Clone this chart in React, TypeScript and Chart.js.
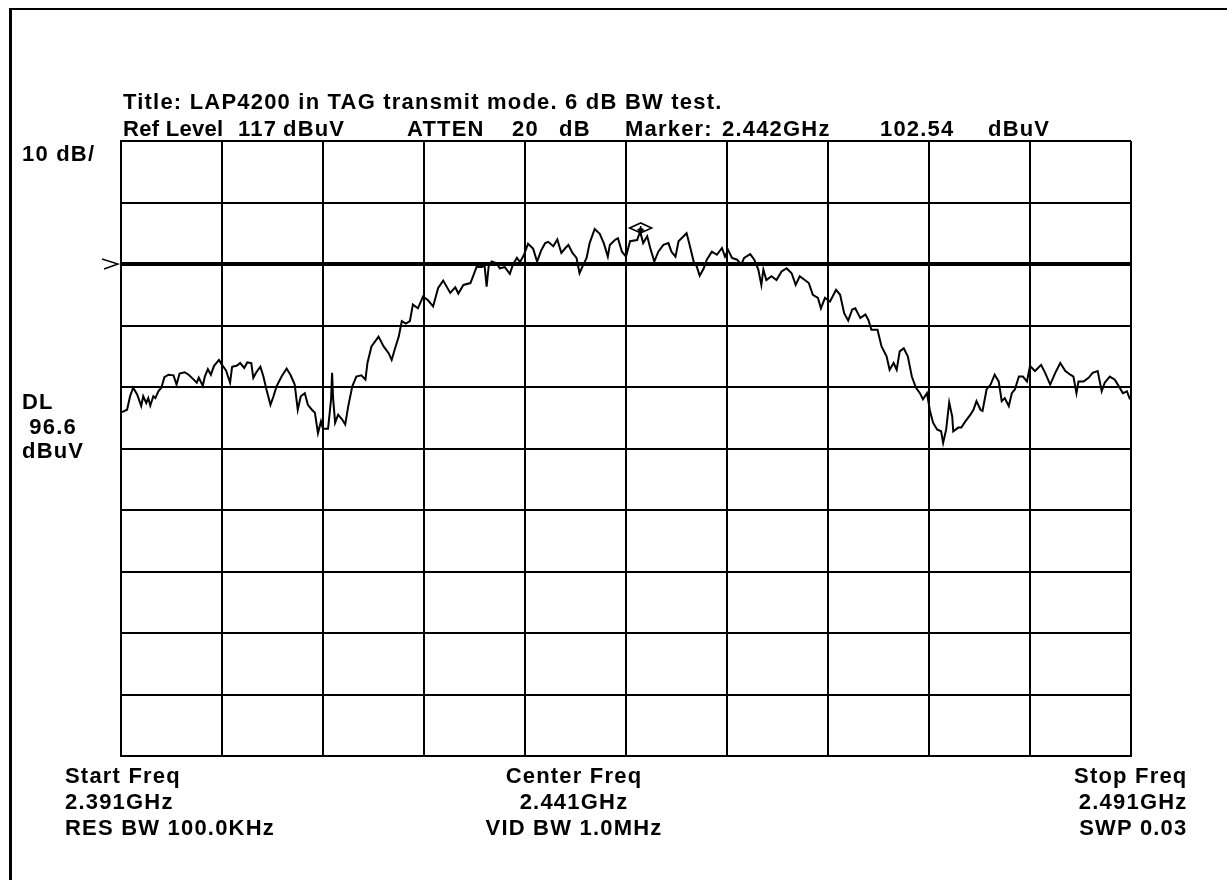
import React, { useEffect, useRef } from "react";
import { Chart, registerables } from "chart.js";

Chart.register(...registerables);

// ---- data ----
const START_MHZ = 2391;
const STOP_MHZ = 2491;
const REF_LEVEL = 117;
const DB_PER_DIV = 10;
const DIVISIONS = 10;
const DISPLAY_LINE = 97;
const MARKER_FREQ = 2442.45;
const MARKER_LEVEL = 102.54;

const FREQ_MHZ = [
  2391.1, 2391.6, 2391.9, 2392.2, 2392.6, 2393.0, 2393.2, 2393.5, 2393.7, 2393.9,
  2394.2, 2394.4, 2394.7, 2395.0, 2395.3, 2395.7, 2396.2, 2396.5, 2396.8, 2397.3,
  2397.7, 2398.2, 2398.5, 2398.7, 2399.1, 2399.3, 2399.6, 2399.9, 2400.2, 2400.7,
  2401.0, 2401.4, 2401.8, 2402.0, 2402.5, 2402.8, 2403.2, 2403.5, 2403.9, 2404.1,
  2404.4, 2404.8, 2405.1, 2405.4, 2405.8, 2406.1, 2406.4, 2406.9, 2407.4, 2407.8,
  2408.2, 2408.5, 2408.8, 2409.2, 2409.5, 2409.9, 2410.2, 2410.5, 2410.8, 2411.0,
  2411.5, 2411.8, 2411.9, 2412.0, 2412.2, 2412.5, 2412.9, 2413.2, 2413.5, 2413.9,
  2414.3, 2414.8, 2415.2, 2415.4, 2415.8, 2416.5, 2417.0, 2417.5, 2417.8, 2418.1,
  2418.5, 2418.8, 2419.2, 2419.6, 2419.9, 2420.4, 2420.9, 2421.4, 2421.9, 2422.4,
  2422.9,
  2423.6, 2424.1, 2424.4, 2424.9, 2425.6, 2425.9, 2426.2, 2426.7, 2427.0, 2427.2,
  2427.4, 2427.7, 2428.2, 2428.5, 2429.0, 2429.5, 2429.8, 2430.2, 2430.5, 2430.9,
  2431.3, 2431.8, 2432.2, 2432.6, 2433.0, 2433.3, 2433.8, 2434.2, 2434.6, 2435.0,
  2435.3, 2435.7, 2436.1, 2436.4, 2436.7, 2437.1, 2437.4, 2437.9, 2438.4, 2438.8,
  2439.2, 2439.4, 2439.9, 2440.2, 2440.6, 2441.0, 2441.4, 2442.1, 2442.4, 2442.7,
  2443.1, 2443.4, 2443.8, 2444.2, 2444.7, 2445.2, 2445.5, 2445.9, 2446.2, 2446.7,
  2447.0, 2447.3, 2447.7, 2448.0, 2448.3, 2448.7, 2449.0, 2449.5, 2450.0, 2450.5,
  2450.8, 2451.1, 2451.5, 2452.0, 2452.4, 2452.7, 2453.3, 2453.7, 2454.1, 2454.4,
  2454.6, 2454.9, 2455.4, 2455.9, 2456.4, 2456.9, 2457.4,
  2457.8, 2458.2, 2458.7, 2459.1, 2459.5, 2460.0, 2460.3, 2460.7, 2461.2, 2461.8,
  2462.2, 2462.6, 2463.0, 2463.4, 2463.7, 2464.2, 2464.7, 2465.0, 2465.3, 2465.9,
  2466.3, 2466.8, 2467.1, 2467.5, 2467.8, 2468.1, 2468.5, 2468.9, 2469.3, 2469.7,
  2470.1, 2470.4, 2470.8, 2471.1, 2471.4, 2471.8, 2472.2, 2472.4, 2472.7, 2473.0,
  2473.3, 2473.4, 2473.9, 2474.2, 2474.6, 2475.1, 2475.4, 2475.7, 2476.1, 2476.3,
  2476.7, 2477.1, 2477.5, 2477.9, 2478.2, 2478.5, 2478.9, 2479.2, 2479.5, 2479.9,
  2480.3, 2480.7, 2481.0, 2481.5, 2482.1, 2482.5, 2483.0, 2483.5, 2484.0, 2484.5,
  2485.0, 2485.3, 2485.6, 2485.8, 2486.3, 2486.8, 2487.2, 2487.7, 2488.1, 2488.4,
  2488.9, 2489.4, 2489.8, 2490.2, 2490.6, 2490.9,
];

const LEVEL_DBUV = [
  72.9, 73.3, 75.5, 76.9, 75.8, 73.9, 75.5, 74.4, 75.2, 74.0,
  75.5, 75.2, 76.3, 76.9, 78.6, 79.0, 78.9, 77.4, 79.2, 79.4,
  79.0, 78.2, 77.7, 78.5, 77.2, 78.7, 79.9, 79.0, 80.4, 81.4,
  80.6, 79.7, 77.7, 80.3, 80.5, 80.9, 80.1, 81.0, 80.9, 78.5,
  79.4, 80.3, 78.7, 76.6, 74.1, 75.5, 77.1, 78.7, 80.0, 78.9,
  77.4, 73.3, 75.5, 76.0, 74.1, 73.3, 72.8, 69.5, 71.4, 70.2,
  70.2, 75.0, 79.3, 75.2, 71.2, 72.5, 71.7, 70.9, 73.9, 77.1,
  78.7, 78.9, 78.2, 80.9, 83.6, 85.2, 83.6, 82.5, 81.4, 83.1,
  85.2, 87.7, 87.3, 87.7, 90.4, 89.8, 91.7, 91.1, 90.1, 93.1,
  94.3,
  92.3, 93.2, 92.2, 93.6, 93.9, 95.2, 96.5, 96.5, 96.7, 93.3,
  96.6, 97.4, 97.1, 96.3, 96.5, 95.4, 96.9, 98.0, 97.3, 98.5,
  100.3, 99.5, 97.4, 99.2, 100.4, 100.6, 99.9, 101.0, 98.8, 99.6,
  100.1, 98.8, 98.0, 95.5, 96.6, 98.0, 100.4, 102.7, 101.9, 100.4,
  98.2, 100.1, 100.9, 101.2, 99.0, 98.2, 100.7, 100.9, 102.3, 100.4,
  101.5, 99.6, 97.4, 99.0, 100.1, 100.4, 99.0, 98.2, 100.7, 101.5,
  102.0, 100.1, 97.4, 96.6, 95.1, 96.3, 97.7, 99.0, 98.5, 99.6,
  98.2, 99.3, 98.0, 97.7, 96.9, 98.0, 98.6, 97.7, 96.1, 93.6,
  96.1, 94.4, 95.0, 94.4, 95.8, 96.3, 95.5,
  93.6, 95.0, 94.4, 93.9, 92.0, 91.5, 89.8, 91.5, 90.9, 92.8,
  92.0, 89.0, 87.8, 89.6, 89.8, 88.2, 88.8, 87.9, 86.3, 86.3,
  83.6, 82.0, 79.8, 80.9, 79.8, 82.8, 83.3, 82.0, 78.7, 76.9,
  76.0, 75.0, 76.0, 73.1, 71.2, 70.1, 69.8, 67.9, 70.1, 74.5,
  72.2, 69.8, 70.4, 70.4, 71.4, 72.5, 73.3, 74.7, 73.3, 73.1,
  76.6, 77.4, 79.0, 77.9, 74.7, 75.2, 73.9, 76.0, 76.6, 78.7,
  78.7, 77.9, 80.4, 79.6, 80.6, 79.3, 77.4, 79.3, 80.9, 79.6,
  79.0, 78.7, 76.0, 77.9, 77.9, 78.5, 79.3, 79.6, 76.3, 77.7,
  78.7, 78.2, 77.1, 76.0, 76.3, 75.0,
];

// ---- text ----
const TITLE_LINE = "Title: LAP4200 in TAG transmit mode. 6 dB BW test.";
const HEADER_TOKENS: [string, number, number][] = [
  ["Ref Level", 123, 0.3],
  ["117", 238, 1.2],
  ["dBuV", 283, 1.2],
  ["ATTEN", 407, 1.2],
  ["20", 512, 1.2],
  ["dB", 559, 1.2],
  ["Marker:", 625, 1.2],
  ["2.442GHz", 722, 1.2],
  ["102.54", 880, 1.2],
  ["dBuV", 988, 1.2],
];
const SCALE_LABEL = "10 dB/";
const DL_LABELS = ["DL", " 96.6", "dBuV"];
const LEFT_FOOTER = ["Start Freq", "2.391GHz", "RES BW 100.0KHz"];
const CENTER_FOOTER = ["Center Freq", "2.441GHz", "VID BW 1.0MHz"];
const RIGHT_FOOTER = ["Stop Freq", "2.491GHz", "SWP 0.03"];

const X_GRID = Array.from({ length: DIVISIONS + 1 }, (_, i) => START_MHZ + (i * (STOP_MHZ - START_MHZ)) / DIVISIONS);
const Y_GRID = Array.from({ length: DIVISIONS + 1 }, (_, i) => REF_LEVEL - i * DB_PER_DIV);

const textStyle: React.CSSProperties = {
  position: "absolute",
  fontFamily: "'Liberation Sans', Arial, sans-serif",
  fontWeight: "bold",
  fontSize: "22px",
  lineHeight: "22px",
  letterSpacing: "1.2px",
  whiteSpace: "pre",
  color: "#000",
};

const overlayPlugin = {
  id: "saOverlay",
  afterDatasetsDraw(chart: any) {
    const { ctx, chartArea, scales } = chart;
    const x = scales.x;
    const y = scales.y;
    ctx.save();
    ctx.strokeStyle = "#000";
    ctx.fillStyle = "#000";
    ctx.lineWidth = 1.6;
    // marker diamond
    const mx = x.getPixelForValue(MARKER_FREQ);
    const my = y.getPixelForValue(MARKER_LEVEL);
    ctx.beginPath();
    ctx.moveTo(mx - 11, my - 2);
    ctx.lineTo(mx, my - 7);
    ctx.lineTo(mx + 11, my - 2);
    ctx.lineTo(mx, my + 3);
    ctx.closePath();
    ctx.stroke();
    ctx.beginPath();
    ctx.moveTo(mx, my - 4);
    ctx.lineTo(mx, my + 6);
    ctx.moveTo(mx - 3.5, my);
    ctx.lineTo(mx + 3.5, my);
    ctx.stroke();
    ctx.fillRect(mx - 2, my - 2, 4, 4);
    // display line pointer
    const dy = y.getPixelForValue(DISPLAY_LINE);
    const lx = chartArea.left;
    ctx.lineWidth = 1.4;
    ctx.beginPath();
    ctx.moveTo(lx - 19, dy - 5);
    ctx.lineTo(lx - 3, dy);
    ctx.lineTo(lx - 17, dy + 5);
    ctx.stroke();
    ctx.restore();
  },
};

export default function App() {
  const canvasRef = useRef<HTMLCanvasElement | null>(null);

  useEffect(() => {
    if (!canvasRef.current) return;
    const chart = new Chart(canvasRef.current, {
      type: "line",
      data: {
        datasets: [
          {
            label: "Trace",
            data: FREQ_MHZ.map((f, i) => ({ x: f, y: LEVEL_DBUV[i] })),
            borderColor: "#000",
            borderWidth: 2,
            pointRadius: 0,
            tension: 0,
            fill: false,
          },
          {
            label: "Display line",
            data: [
              { x: START_MHZ, y: DISPLAY_LINE },
              { x: STOP_MHZ, y: DISPLAY_LINE },
            ],
            borderColor: "#000",
            borderWidth: 4,
            pointRadius: 0,
            fill: false,
          },
        ],
      },
      options: {
        responsive: false,
        maintainAspectRatio: false,
        devicePixelRatio: 1,
        animation: false,
        events: [],
        layout: { padding: { left: 121, top: 141, right: 96, bottom: 124 } },
        plugins: { legend: { display: false }, tooltip: { enabled: false }, title: { display: false } },
        scales: {
          x: {
            type: "linear",
            min: START_MHZ,
            max: STOP_MHZ,
            afterBuildTicks: (s: any) => {
              s.ticks = X_GRID.map((v) => ({ value: v }));
            },
            afterFit: (s: any) => {
              s.height = 0;
            },
            ticks: { display: false },
            grid: { color: "#000", lineWidth: 2, drawTicks: false },
            border: { display: true, color: "#000", width: 2 },
          },
          y: {
            type: "linear",
            min: REF_LEVEL - DIVISIONS * DB_PER_DIV,
            max: REF_LEVEL,
            afterBuildTicks: (s: any) => {
              s.ticks = Y_GRID.map((v) => ({ value: v }));
            },
            afterFit: (s: any) => {
              s.width = 0;
            },
            ticks: { display: false },
            grid: { color: "#000", lineWidth: 2, drawTicks: false },
            border: { display: true, color: "#000", width: 2 },
          },
        },
      },
      plugins: [overlayPlugin],
    });
    return () => chart.destroy();
  }, []);

  const lineTop = (capTop: number) => capTop - 2.9;

  return (
    <div style={{ position: "absolute", left: 0, top: 0, width: 1227, height: 880, overflow: "hidden", background: "#fff" }}>
      <div
        style={{
          position: "absolute",
          left: 9,
          top: 8,
          width: 1400,
          height: 1000,
          borderLeft: "3px solid #000",
          borderTop: "2px solid #000",
        }}
      />
      <canvas ref={canvasRef} width={1227} height={880} style={{ position: "absolute", left: 0, top: 0 }} />
      <div style={{ ...textStyle, left: 123, top: lineTop(93.5) }}>{TITLE_LINE}</div>
      {HEADER_TOKENS.map(([t, x, ls], i) => (
        <div key={"h" + i} style={{ ...textStyle, left: x, letterSpacing: ls + "px", top: lineTop(120.5) }}>
          {t}
        </div>
      ))}
      <div style={{ ...textStyle, left: 22, top: lineTop(146) }}>{SCALE_LABEL}</div>
      {DL_LABELS.map((t, i) => (
        <div key={"dl" + i} style={{ ...textStyle, left: 22, top: lineTop(394 + i * 24.5) }}>
          {t}
        </div>
      ))}
      {LEFT_FOOTER.map((t, i) => (
        <div key={"lf" + i} style={{ ...textStyle, left: 65, top: lineTop(767.5 + i * 26) }}>
          {t}
        </div>
      ))}
      {CENTER_FOOTER.map((t, i) => (
        <div key={"cf" + i} style={{ ...textStyle, left: 424, width: 300, textAlign: "center", top: lineTop(767.5 + i * 26) }}>
          {t}
        </div>
      ))}
      {RIGHT_FOOTER.map((t, i) => (
        <div key={"rf" + i} style={{ ...textStyle, right: 39.5, textAlign: "right", top: lineTop(767.5 + i * 26) }}>
          {t}
        </div>
      ))}
    </div>
  );
}
